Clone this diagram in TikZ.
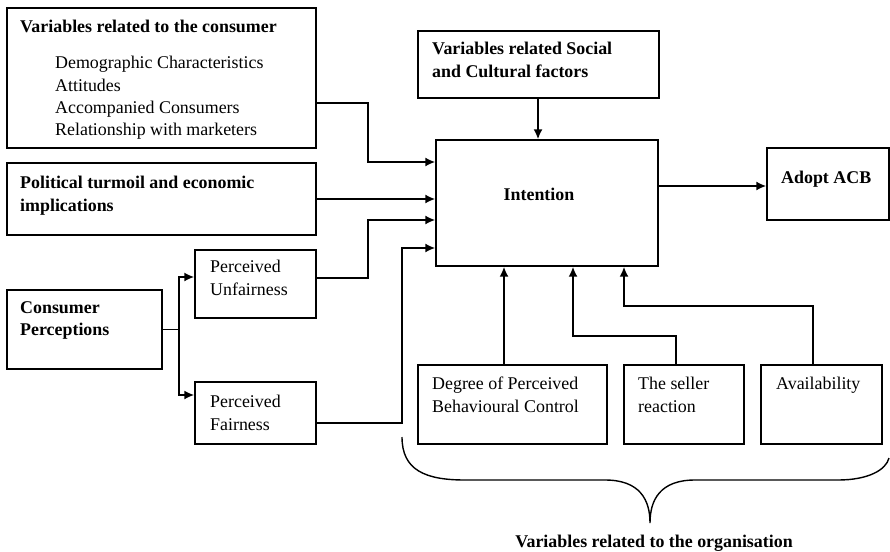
\documentclass[tikz,border=0pt]{standalone}
\usepackage{fontspec}
\setmainfont{Liberation Serif}
\usepackage{tikz}
\usetikzlibrary{arrows,arrows.meta}
\newcommand{\diagfont}{\fontsize{17.9pt}{22.4pt}\selectfont}
\tikzstyle{block} = [rectangle, draw, line width=1.4pt, inner sep=0pt]
\tikzstyle{caption} = [anchor=north west, align=left, inner sep=0pt, font=\diagfont\bfseries]
\tikzstyle{plain} = [anchor=north west, align=left, inner sep=0pt, font=\diagfont]
\tikzstyle{arrow} = [draw, -{Latex[length=10pt,width=9pt]}, line width=1.8pt]
\tikzstyle{line} = [draw, line width=1.8pt]

\begin{document}
\begin{tikzpicture}[x=1pt, y=-1pt]
			\useasboundingbox (0,0) rectangle (890,551);
			% Place boxes
			\node [block, minimum width=309pt, minimum height=140pt] (consumer) at (161.5,78) {};
			\node [block, minimum width=309pt, minimum height=72pt] (politic) at (161.5,199) {};
			\node [block, minimum width=155pt, minimum height=79pt] (percept) at (84.5,329.5) {};
			\node [block, minimum width=121pt, minimum height=68pt] (unfair) at (255.5,284) {};
			\node [block, minimum width=121pt, minimum height=62pt] (fair) at (255.5,413) {};
			\node [block, minimum width=241pt, minimum height=67pt] (social) at (538.5,64.5) {};
			\node [block, minimum width=222pt, minimum height=126pt] (intent) at (547,203) {};
			\node [block, minimum width=122pt, minimum height=72pt] (adopt) at (828,184) {};
			\node [block, minimum width=189pt, minimum height=79pt] (degree) at (512.5,404.5) {};
			\node [block, minimum width=120pt, minimum height=79pt] (seller) at (684,404.5) {};
			\node [block, minimum width=121pt, minimum height=79pt] (avail) at (821.5,404.5) {};

			% Place texts
			\node [caption] (consumerTitle) at (20,20) {Variables related to the consumer};
			\node [plain] (consumerList) at (55,56) {Demographic Characteristics\\Attitudes\\Accompanied Consumers\\Relationship with marketers};
			\node [caption] (politicText) at (20,176) {Political turmoil and economic\\implications};
			\node [caption] (perceptText) at (20,301) {Consumer\\Perceptions};
			\node [plain] (unfairText) at (210,260) {Perceived\\Unfairness};
			\node [plain] (fairText) at (210,395) {Perceived\\Fairness};
			\node [caption] (socialText) at (432,42) {Variables related Social\\and Cultural factors};
			\node [caption, anchor=base] (intentText) at (539,200) {Intention};
			\node [caption] (adoptText) at (781,171) {Adopt ACB};
			\node [plain] (degreeText) at (432,377) {Degree of Perceived\\Behavioural Control};
			\node [plain] (sellerText) at (638,377) {The seller\\reaction};
			\node [plain] (availText) at (776,377) {Availability};
			\node [caption, anchor=base] (orgText) at (654,547) {Variables related to the organisation};

			% Draw edges
			\path [arrow] ([yshift=-25pt]consumer.east) -- ++(51,0) |- ([yshift=41pt]intent.west);
			\path [arrow] (politic.east) -- (politic.east -| intent.west);
			\path [arrow] ([yshift=6pt]unfair.east) -- ++(51,0) |- ([yshift=-17pt]intent.west);
			\path [arrow] ([yshift=-10pt]fair.east) -- ++(85,0) |- ([yshift=-45pt]intent.west);
			\path [line] (percept.east) -- ++(16,0) coordinate (fork);
			\path [arrow] (fork) |- ([yshift=7pt]unfair.west);
			\path [arrow] (fork) |- ([yshift=18pt]fair.west);
			\path [arrow] ([xshift=-0.5pt]social.south) -- ([xshift=-0.5pt]social.south |- intent.north);
			\path [arrow] ([yshift=17pt]intent.east) -- ([yshift=17pt]intent.east -| adopt.west);
			\path [arrow] ([xshift=-8.5pt]degree.north) -- ([xshift=-8.5pt]degree.north |- intent.south);
			\path [arrow] ([xshift=-8pt]seller.north) -- ++(0,-28) -| ([xshift=26pt]intent.south);
			\path [arrow] ([xshift=-8.5pt]avail.north) -- ++(0,-58) -| ([xshift=77pt]intent.south);

			% Brace under the organisation boxes
			\draw [line width=1.4pt] (402,437) .. controls (402,470) and (425,480) .. (465,480) -- (605,480)
				.. controls (640,480) and (650,500) .. (650,523) .. controls (650,500) and (660,480) .. (695,480)
				-- (838,480) .. controls (868,480) and (886,470) .. (889,458);
	\end{tikzpicture}
\end{document}
